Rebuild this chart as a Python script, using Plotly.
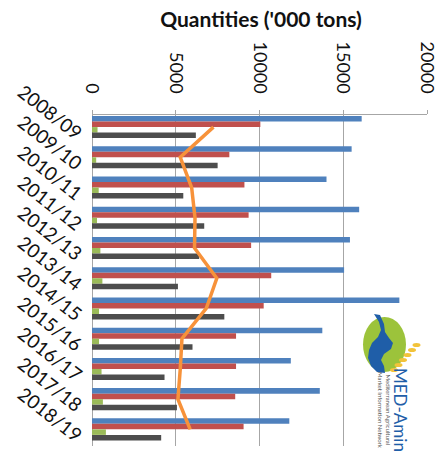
import plotly.graph_objects as go

seasons = ["2008/09", "2009/10", "2010/11", "2011/12", "2012/13", "2013/14",
           "2014/15", "2015/16", "2016/17", "2017/18", "2018/19"]
blue_vals = [16100, 15500, 14000, 15950, 15400, 15050, 18350, 13750, 11870, 13600, 11780]
red_vals = [10050, 8200, 9100, 9350, 9500, 10700, 10250, 8600, 8600, 8550, 9050]
green_vals = [330, 250, 400, 300, 500, 620, 420, 420, 570, 650, 830]
gray_vals = [6200, 7500, 5450, 6700, 6400, 5130, 7900, 6000, 4330, 5070, 4130]
orange_vals = [7250, 5270, 5950, 6150, 6120, 7450, 6820, 5370, 5270, 5130, 5860]
x_ticks = [0, 5000, 10000, 15000, 20000]
x_tick_labels = ["0", "5000", "10000", "15000", "20000"]
title_text = "<b>Quantities ('000 tons)</b>"

W, H = 446, 461
L, R, T, B = 92, 19, 115, 15
PW, PH = W - L - R, H - T - B


def px(x):
    return (x - L) / PW


def py(y):
    return 1 - (y - T) / PH


fig = go.Figure()
for vals, col in [(blue_vals, "#4f81bd"), (red_vals, "#c0504d"),
                  (green_vals, "#9bbb59"), (gray_vals, "#4d4d4d")]:
    fig.add_trace(go.Bar(x=vals, y=seasons, orientation="h",
                         marker=dict(color=col, line=dict(width=0)),
                         showlegend=False, hoverinfo="skip"))
fig.add_trace(go.Scatter(x=orange_vals, y=seasons, mode="lines",
                         line=dict(color="#f7923a", width=3.5),
                         showlegend=False, hoverinfo="skip"))

# approximate MED-Amin logo
shapes = []
shapes.append(dict(type="circle", xref="paper", yref="paper",
                   x0=px(363), x1=px(406), y0=py(372), y1=py(317),
                   fillcolor="#9cc33b", line=dict(width=0), layer="above"))
pts = [(374, 314), (379, 322), (381, 330), (378, 337), (372, 343), (369, 350),
       (368, 358), (371, 366), (377, 372), (385, 373), (384, 366), (381, 360),
       (384, 354), (391, 349), (393, 343), (389, 338), (385, 332), (384, 324),
       (380, 315)]
blue_path = "M " + " L ".join("{:.4f} {:.4f}".format(px(a), py(b)) for a, b in pts) + " Z"
shapes.append(dict(type="path", xref="paper", yref="paper", path=blue_path,
                   fillcolor="#1f5ea8", line=dict(width=0), layer="above"))
for i in range(6):
    cx, cy = 394 + i * 4.5, 370 - i * 5
    shapes.append(dict(type="circle", xref="paper", yref="paper",
                       x0=px(cx - 4), x1=px(cx + 4), y0=py(cy + 2), y1=py(cy - 2),
                       fillcolor="#f2c33a", line=dict(width=0), layer="above"))

annotations = [
    dict(text="MED-Amin", xref="paper", yref="paper", x=px(401), y=py(410),
         xanchor="center", yanchor="middle",
         showarrow=False, textangle=90,
         font=dict(family="Lato", size=17, color="#1f5ea8")),
    dict(text="Mediterranean Agricultural<br>Market Information Network",
         xref="paper", yref="paper", x=px(385), y=py(410), showarrow=False,
         xanchor="center", yanchor="middle",
         textangle=90, font=dict(family="Lato", size=6, color="#555555")),
]

fig.update_layout(
    width=W, height=H,
    margin=dict(l=L, r=R, t=T, b=B),
    paper_bgcolor="white", plot_bgcolor="white",
    barmode="group", bargap=0.27, bargroupgap=0,
    title=dict(text=title_text, x=261 / W, xanchor="center", y=1 - 20 / H,
               yanchor="middle", yref="container",
               font=dict(family="Lato", size=21, color="#111111")),
    xaxis=dict(side="top", range=[0, 20000], tickvals=x_ticks,
               ticktext=x_tick_labels, automargin=False,
               tickangle=90, showgrid=True, gridcolor="#a6a6a6", gridwidth=1,
               zeroline=True, zerolinecolor="#a6a6a6", zerolinewidth=1,
               showline=True, linecolor="#a6a6a6", linewidth=1,
               ticks="outside", ticklen=4, tickcolor="#a6a6a6",
               ticklabelstandoff=10,
               tickfont=dict(family="Lato", size=18, color="#111111")),
    yaxis=dict(type="category", range=[10.55, -0.4], tickangle=38,
               automargin=False,
               showgrid=False, showline=False, ticks="",
               ticklabelstandoff=10, ticklabelshift=-9,
               tickfont=dict(family="Lato", size=19, color="#111111")),
    shapes=shapes, annotations=annotations,
)

fig.write_html("out.html", config={"displayModeBar": False},
               post_script="document.body.style.margin='0';document.body.style.padding='0';")
